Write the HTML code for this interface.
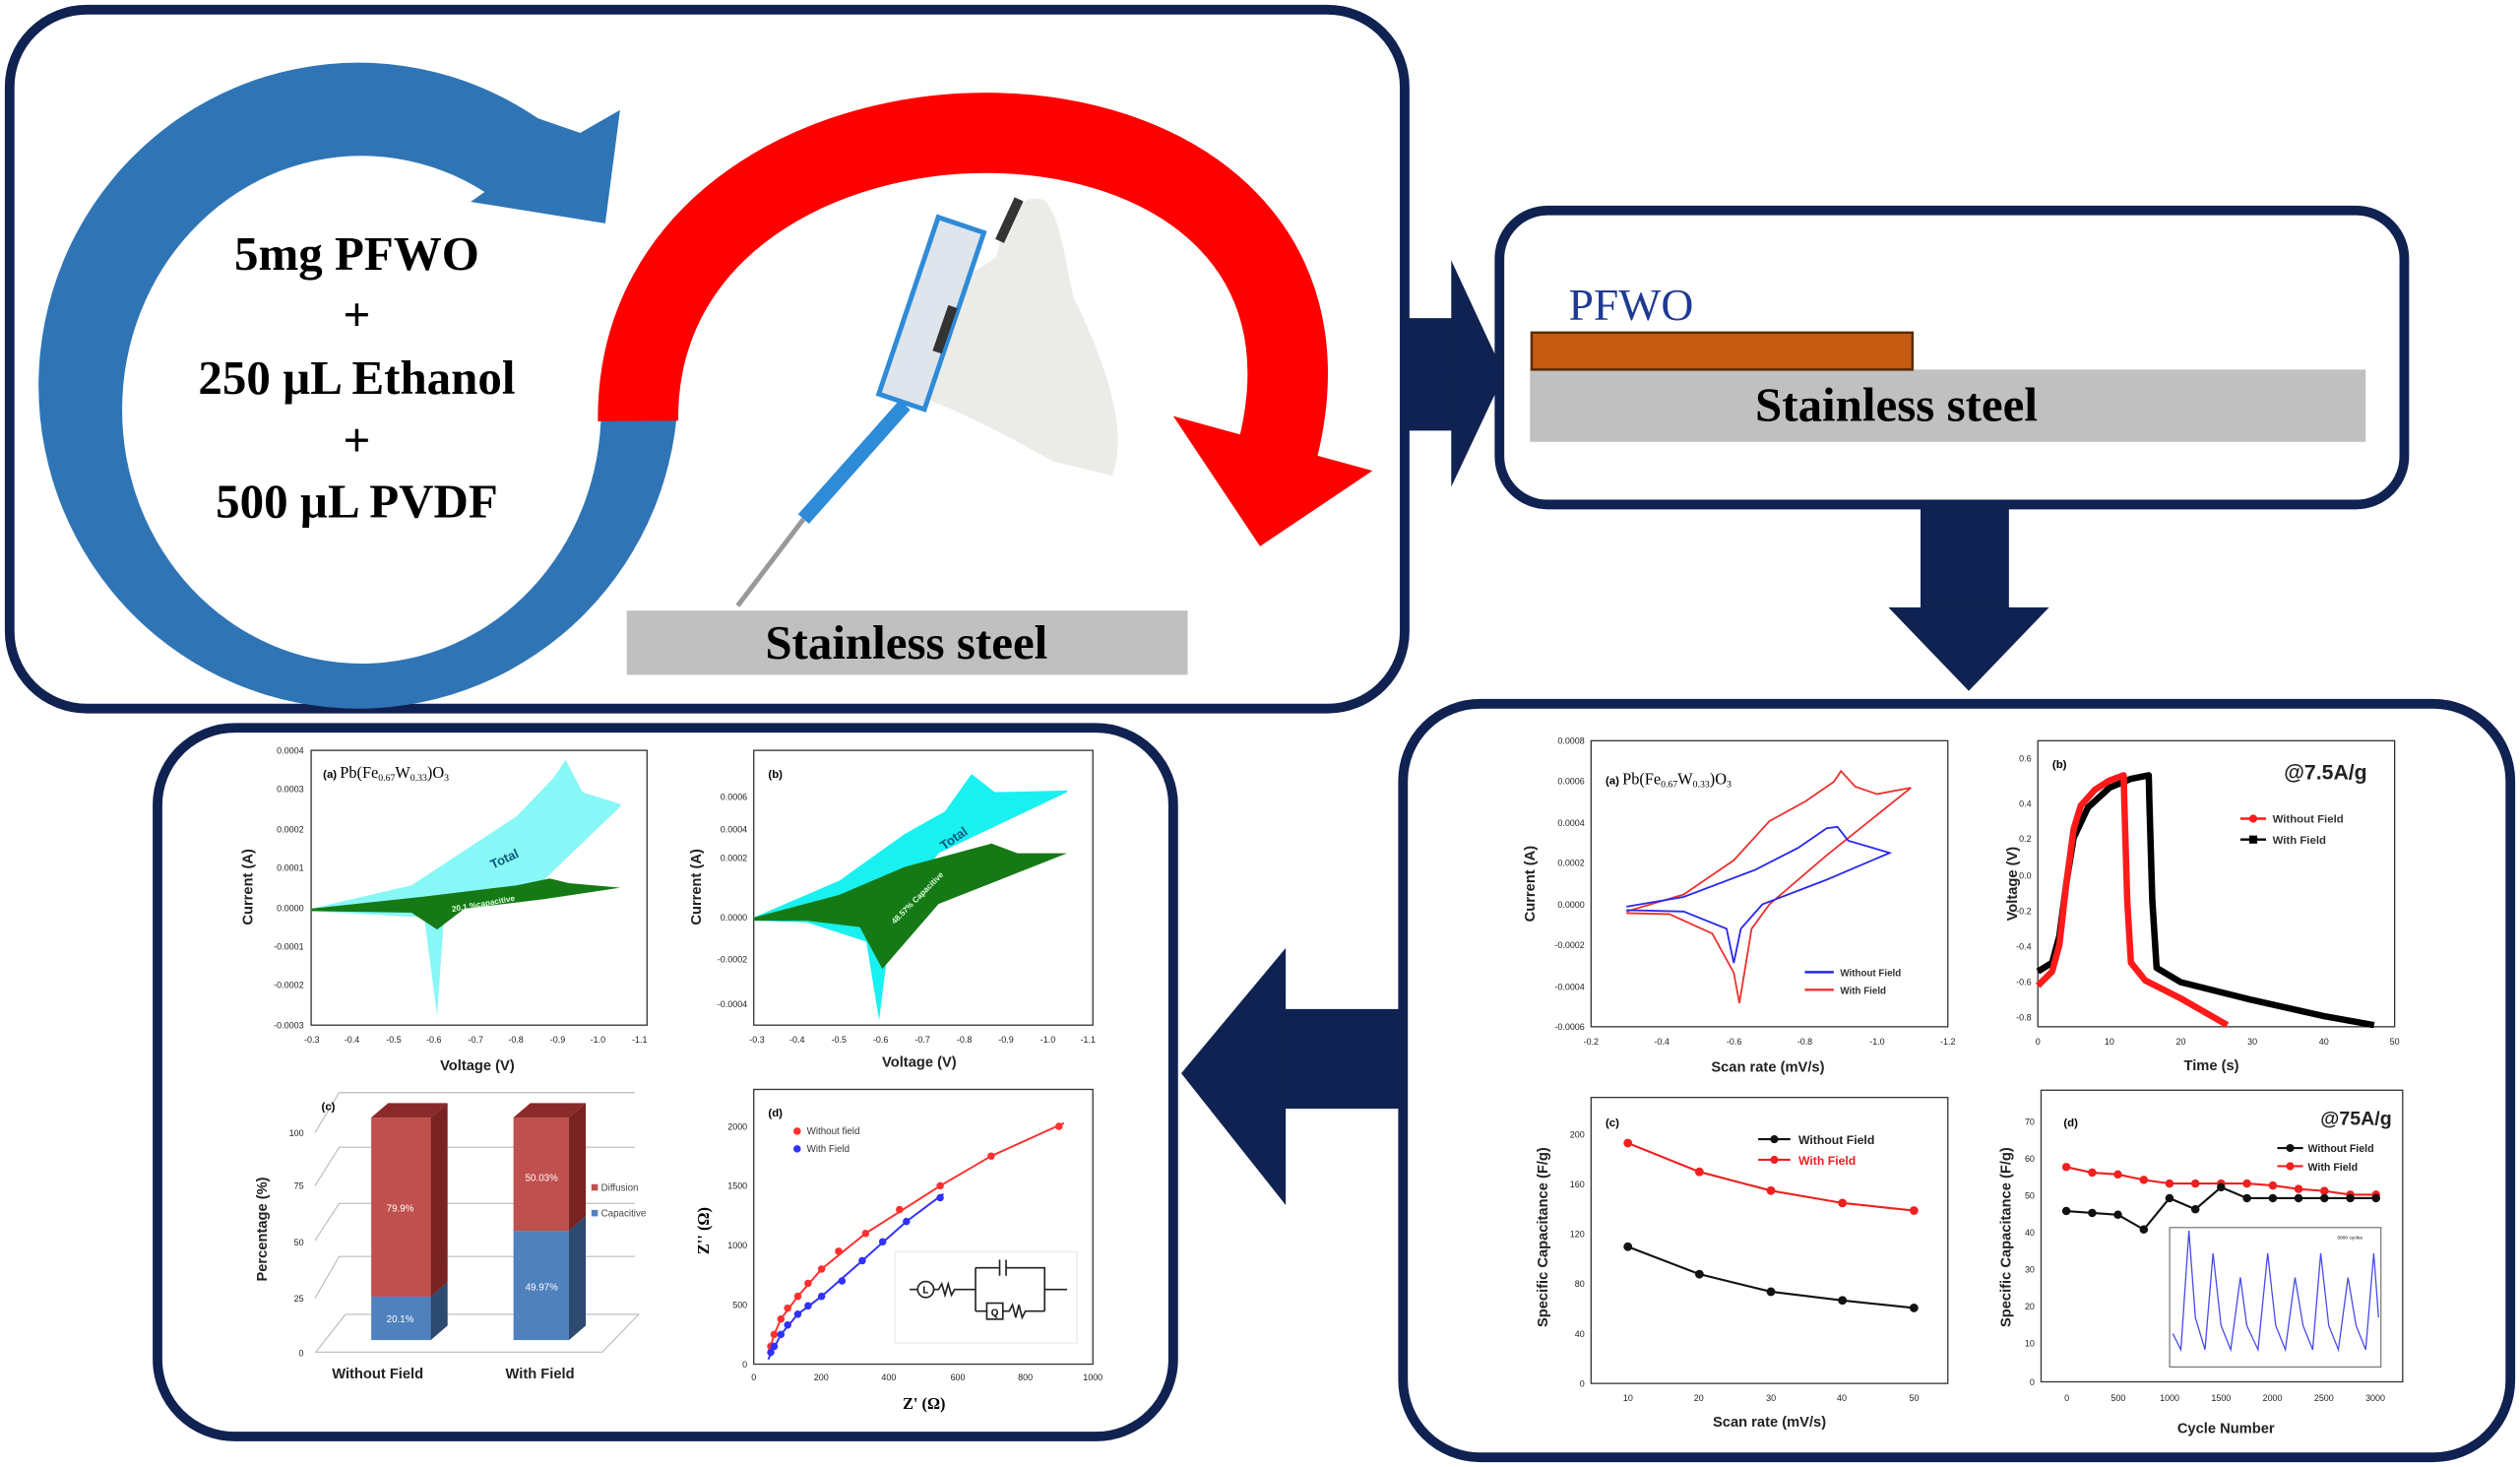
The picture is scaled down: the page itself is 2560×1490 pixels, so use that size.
<!DOCTYPE html>
<html><head><meta charset="utf-8"><style>
html,body{margin:0;padding:0;background:#fff;}
svg{display:block;}
text{font-family:"Liberation Sans",sans-serif;}
.sr{font-family:"Liberation Serif",serif;}
.t{font-size:5.5px;fill:#222;}
.lb{font-size:9px;font-weight:bold;fill:#222;}
</style></head><body>
<svg width="2560" height="1490" viewBox="0 0 1568 913" preserveAspectRatio="none" xmlns="http://www.w3.org/2000/svg">
<rect width="1568" height="913" fill="#fff"/>
<g fill="none" stroke="#102251" stroke-width="6">
<rect x="6" y="6" width="868" height="435" rx="48"/>
<rect x="933" y="131" width="563" height="183" rx="30"/>
<rect x="873" y="438" width="689" height="469" rx="48"/>
<rect x="98" y="453" width="632" height="441" rx="48"/>
</g>
<g fill="#102251">
<rect x="874" y="198" width="32" height="70"/><polygon points="903,162 936,233 903,303"/>
<rect x="1195" y="316" width="55" height="64"/><polygon points="1175,378 1275,378 1225,430"/>
<rect x="797" y="628" width="76" height="62"/><polygon points="735,668 800,590 800,750"/>
</g>
<ellipse cx="223" cy="240" rx="199" ry="201" fill="#2f75b5"/>
<ellipse cx="225" cy="255" rx="149" ry="158" fill="#fff"/>
<polygon points="225,258 315,110 361,82 470,20 470,258" fill="#fff"/>
<polygon points="330,72 361,82.7 385.8,68.5 376.6,139 292.8,125.6 315,110" fill="#2f75b5"/>
<path d="M397,262 C395,20 860,20 795,280" fill="none" stroke="#ff0000" stroke-width="50"/>
<polygon points="730,259 854,293 784,340" fill="#ff0000"/>
<text class="sr" x="222" y="168" font-size="30" font-weight="bold" text-anchor="middle">5mg PFWO</text>
<text class="sr" x="222" y="206" font-size="30" font-weight="bold" text-anchor="middle">+</text>
<text class="sr" x="222" y="245" font-size="30" font-weight="bold" text-anchor="middle">250 µL Ethanol</text>
<text class="sr" x="222" y="284" font-size="30" font-weight="bold" text-anchor="middle">+</text>
<text class="sr" x="222" y="322" font-size="30" font-weight="bold" text-anchor="middle">500 µL  PVDF</text>
<path d="M566,232 C560,205 575,185 590,180 L620,160 C625,135 638,118 650,125 C660,135 662,160 668,185 C690,230 702,270 692,296 L655,287 C628,272 600,257 580,250 Z" fill="#ebebe8"/>
<polygon points="546.8,245.2 575.2,254.8 612.2,144.8 583.8,135.2" fill="#dfe5ec" stroke="#2e8bd8" stroke-width="3"/>
<rect x="585" y="190" width="6" height="30" fill="#333" transform="rotate(19 588 205)"/>
<line x1="500" y1="323" x2="563" y2="252" stroke="#2e8bd8" stroke-width="9"/>
<line x1="459" y1="377" x2="500" y2="323" stroke="#999" stroke-width="3"/>
<line x1="622" y1="150" x2="634" y2="124" stroke="#333" stroke-width="6"/>
<rect x="390" y="380" width="349" height="40" fill="#c0c0c0"/>
<text class="sr" x="564" y="410" font-size="30" font-weight="bold" text-anchor="middle">Stainless steel</text>
<text class="sr" x="976" y="199" font-size="28" fill="#1f3a93">PFWO</text>
<rect x="952" y="230" width="520" height="45" fill="#c0c0c0"/>
<rect x="953" y="207" width="237" height="23" fill="#c55a11" stroke="#5a2a00" stroke-width="1.5"/>
<text class="sr" x="1180" y="262" font-size="30" font-weight="bold" text-anchor="middle">Stainless steel</text>

<rect x="193.6" y="467" width="209" height="171" fill="none" stroke="#333" stroke-width="0.8"/>
<path d="M193.6,565.5 L256,551 L321.5,508 L344,484.6 L352,473 L362.5,493 L386,500.5 L386,502 L338,548 L289,562.6 L276.4,568 L272,632 L264,571 L193.6,567 Z" fill="#88f7f7"/>
<path d="M193.6,565.5 L264,558 L321.5,551 L342,546.7 L354,549.6 L386,552.5 L338,559.7 L289,565.5 L272,578.5 L256,568 L193.6,567 Z" fill="#157a15"/>
<text x="315" y="537" font-size="8" font-weight="bold" fill="#0a5a7a" transform="rotate(-25 315 537)" text-anchor="middle">Total</text>
<text x="301" y="564" font-size="5" font-weight="bold" fill="#dfd" transform="rotate(-10 301 564)" text-anchor="middle">20.1 %capacitive</text>
<text x="201" y="484" font-size="7" font-weight="bold">(a) <tspan class="sr" font-size="10" font-weight="normal">Pb(Fe<tspan font-size="6" dy="2">0.67</tspan><tspan dy="-2">W</tspan><tspan font-size="6" dy="2">0.33</tspan><tspan dy="-2">)O</tspan><tspan font-size="6" dy="2">3</tspan></tspan></text>
<g class="t" text-anchor="end"><text x="189" y="469">0.0004</text><text x="189" y="493">0.0003</text><text x="189" y="518">0.0002</text><text x="189" y="542">0.0001</text><text x="189" y="567">0.0000</text><text x="189" y="591">-0.0001</text><text x="189" y="615">-0.0002</text><text x="189" y="640">-0.0003</text></g>
<g class="t" text-anchor="middle"><text x="194" y="649">-0.3</text><text x="219" y="649">-0.4</text><text x="245" y="649">-0.5</text><text x="270" y="649">-0.6</text><text x="296" y="649">-0.7</text><text x="321" y="649">-0.8</text><text x="347" y="649">-0.9</text><text x="372" y="649">-1.0</text><text x="398" y="649">-1.1</text></g>
<text class="lb" x="297" y="666" text-anchor="middle">Voltage (V)</text>
<text class="lb" x="157" y="552" transform="rotate(-90 157 552)" text-anchor="middle">Current (A)</text>
<rect x="469" y="467" width="211" height="171" fill="none" stroke="#333" stroke-width="0.8"/>
<path d="M469,571 L522.4,548 L563,519 L588,505 L604.5,481.7 L619,493 L664,492 L664,493 L584,531 L555,571 L547,635 L539,586 L502,574 L469,573 Z" fill="#19f0f0"/>
<path d="M469,571 L522,557 L563,539.5 L617,525 L633,531 L664,531 L584,562.6 L549,603 L535,577 L502,573 L469,573 Z" fill="#157a15"/>
<text x="595" y="524" font-size="8" font-weight="bold" fill="#0a5a7a" transform="rotate(-35 595 524)" text-anchor="middle">Total</text>
<text x="572" y="560" font-size="5" font-weight="bold" fill="#dfd" transform="rotate(-45 572 560)" text-anchor="middle">48.57% Capacitive</text>
<text x="478" y="484" font-size="7" font-weight="bold">(b)</text>
<g class="t" text-anchor="end"><text x="465" y="498">0.0006</text><text x="465" y="518">0.0004</text><text x="465" y="536">0.0002</text><text x="465" y="573">0.0000</text><text x="465" y="599">-0.0002</text><text x="465" y="627">-0.0004</text></g>
<g class="t" text-anchor="middle"><text x="471" y="649">-0.3</text><text x="496" y="649">-0.4</text><text x="522" y="649">-0.5</text><text x="548" y="649">-0.6</text><text x="574" y="649">-0.7</text><text x="600" y="649">-0.8</text><text x="626" y="649">-0.9</text><text x="652" y="649">-1.0</text><text x="677" y="649">-1.1</text></g>
<text class="lb" x="572" y="664" text-anchor="middle">Voltage (V)</text>
<text class="lb" x="436" y="552" transform="rotate(-90 436 552)" text-anchor="middle">Current (A)</text>
<g stroke="#bbb" stroke-width="0.7" fill="none">
<polyline points="196,705 211,680 395,680"/><polyline points="196,738 211,714 395,714"/><polyline points="196,772 211,749 395,749"/><polyline points="196,808 211,782 395,782"/>
<polygon points="196.5,841.5 374.8,841.5 397.4,818 215,818"/>
</g>
<polygon points="231,695.5 268,695.5 278.5,686.5 241.5,686.5" fill="#8b2a2a"/>
<rect x="231" y="695.5" width="37" height="111.5" fill="#c0504d"/>
<rect x="231" y="807" width="37" height="27" fill="#4f81bd"/>
<polygon points="268,695.5 278.5,686.5 278.5,798 268,807" fill="#7a2323"/>
<polygon points="268,807 278.5,798 278.5,825 268,834" fill="#2d4a70"/>
<polygon points="319.5,695.5 354,695.5 364.5,686.5 330,686.5" fill="#8b2a2a"/>
<rect x="319.5" y="695.5" width="34.5" height="70.5" fill="#c0504d"/>
<rect x="319.5" y="766" width="34.5" height="68" fill="#4f81bd"/>
<polygon points="354,695.5 364.5,686.5 364.5,757 354,766" fill="#7a2323"/>
<polygon points="354,766 364.5,757 364.5,825 354,834" fill="#2d4a70"/>
<g font-size="6" fill="#fff" text-anchor="middle"><text x="249" y="754">79.9%</text><text x="249" y="823">20.1%</text><text x="337" y="735">50.03%</text><text x="337" y="803">49.97%</text></g>
<rect x="368" y="737" width="4" height="4" fill="#c0504d"/><text x="374" y="741" font-size="6" fill="#444">Diffusion</text>
<rect x="368" y="753" width="4" height="4" fill="#4f81bd"/><text x="374" y="757" font-size="6" fill="#444">Capacitive</text>
<g class="t" text-anchor="end" font-size="6"><text x="189" y="707">100</text><text x="189" y="740">75</text><text x="189" y="775">50</text><text x="189" y="810">25</text><text x="189" y="844">0</text></g>
<text x="200" y="691" font-size="7" font-weight="bold">(c)</text>
<text class="lb" x="166" y="765" transform="rotate(-90 166 765)" text-anchor="middle" font-size="10">Percentage (%)</text>
<text class="lb" x="235" y="858" text-anchor="middle" font-size="10">Without Field</text>
<text class="lb" x="336" y="858" text-anchor="middle" font-size="10">With Field</text>
<rect x="469" y="678" width="211" height="171" fill="none" stroke="#333" stroke-width="0.8"/>
<polyline points="478,843 481.7,830.5 485.9,820.9 496.4,806.8 511.2,789.8 538.6,767.6 585,738 616.7,719.5 662,699" fill="none" stroke="#ff3030" stroke-width="1.2"/>
<polyline points="478,846 485.9,830.5 496.4,817.9 511.2,806.8 536.5,784.6 564,760.2 587,743" fill="none" stroke="#3030ff" stroke-width="1.2"/>
<g fill="#ff3030"><circle cx="479.6" cy="837.9" r="2.3"/><circle cx="481.7" cy="830.5" r="2.3"/><circle cx="485.9" cy="820.9" r="2.3"/><circle cx="490.1" cy="814.2" r="2.3"/><circle cx="496.4" cy="806.8" r="2.3"/><circle cx="502.8" cy="798.7" r="2.3"/><circle cx="511.2" cy="789.8" r="2.3"/><circle cx="521.8" cy="778.7" r="2.3"/><circle cx="538.6" cy="767.6" r="2.3"/><circle cx="559.7" cy="752.8" r="2.3"/><circle cx="585" cy="738" r="2.3"/><circle cx="616.7" cy="719.5" r="2.3"/><circle cx="658.9" cy="701" r="2.3"/><circle cx="496" cy="704" r="2.3"/></g>
<g fill="#3030ff"><circle cx="479.6" cy="841.6" r="2.3"/><circle cx="481.7" cy="837.9" r="2.3"/><circle cx="485.9" cy="830.5" r="2.3"/><circle cx="490.1" cy="824.6" r="2.3"/><circle cx="496.4" cy="817.9" r="2.3"/><circle cx="502.8" cy="812.7" r="2.3"/><circle cx="511.2" cy="806.8" r="2.3"/><circle cx="523.9" cy="797.2" r="2.3"/><circle cx="536.5" cy="784.6" r="2.3"/><circle cx="549.2" cy="772.8" r="2.3"/><circle cx="564" cy="760.2" r="2.3"/><circle cx="585" cy="745.4" r="2.3"/><circle cx="496" cy="715" r="2.3"/></g>
<text x="502" y="706" font-size="6" fill="#333">Without field</text><text x="502" y="717" font-size="6" fill="#333">With Field</text>
<text x="478" y="695" font-size="7" font-weight="bold">(d)</text>
<g fill="none" stroke="#222" stroke-width="1"><rect x="557" y="779" width="113" height="57" stroke="#eee"/>
<circle cx="576" cy="802.5" r="5"/><polyline points="566,802.5 571,802.5"/><polyline points="581,802.5 584,802.5 586,799 588,806 590,799 592,806 594,802.5 607,802.5"/>
<polyline points="607,789 607,816"/><polyline points="607,789 622,789"/><polyline points="622,784 622,794"/><polyline points="626,784 626,794"/><polyline points="626,789 650,789 650,816"/>
<polyline points="607,816 614,816"/><rect x="614" y="811" width="10" height="10"/><polyline points="624,816 628,816 630,812 632,820 634,812 636,820 638,816 650,816"/><polyline points="650,802.5 664,802.5"/></g>
<text x="576" y="805" font-size="6" text-anchor="middle" font-weight="bold">L</text><text x="619" y="819" font-size="6" text-anchor="middle" font-weight="bold">Q</text>
<g class="t" text-anchor="end"><text x="465" y="703">2000</text><text x="465" y="740">1500</text><text x="465" y="777">1000</text><text x="465" y="814">500</text><text x="465" y="851">0</text></g>
<g class="t" text-anchor="middle"><text x="469" y="859">0</text><text x="511" y="859">200</text><text x="553" y="859">400</text><text x="596" y="859">600</text><text x="638" y="859">800</text><text x="680" y="859">1000</text></g>
<text class="sr" x="575" y="877" text-anchor="middle" font-size="10" font-weight="bold">Z' (Ω)</text>
<text class="sr" x="441" y="766" transform="rotate(-90 441 766)" text-anchor="middle" font-size="10" font-weight="bold">Z'' (Ω)</text>

<rect x="990" y="461" width="222" height="178" fill="none" stroke="#333" stroke-width="0.8"/>
<path d="M1012,567.3 L1047.6,556.7 L1078.8,535.4 L1101,511 L1123.3,498.8 L1141,486.6 L1145.5,479.9 L1154.4,489.6 L1167.8,494.2 L1189,490.3 L1136.6,532.3 L1101,562.8 L1089.9,578 L1085.4,605.4 L1082.3,624.3 L1078.8,605.4 L1065.4,581 L1038.7,568.9 L1012,568.3" fill="none" stroke="#ee3030" stroke-width="1.1"/>
<path d="M1012,564.3 L1047.6,558.2 L1092,541.4 L1118.8,527.7 L1136.6,515.5 L1143.3,514.6 L1150,523.2 L1175.8,530.8 L1136.6,547.5 L1096.6,562.8 L1083.2,578 L1078.8,599.3 L1074.3,578 L1047.6,567.3 L1012,566.4" fill="none" stroke="#2828ee" stroke-width="1.1"/>
<text x="999" y="488" font-size="7" font-weight="bold">(a) <tspan class="sr" font-size="10" font-weight="normal">Pb(Fe<tspan font-size="6" dy="2">0.67</tspan><tspan dy="-2">W</tspan><tspan font-size="6" dy="2">0.33</tspan><tspan dy="-2">)O</tspan><tspan font-size="6" dy="2">3</tspan></tspan></text>
<line x1="1123" y1="605" x2="1141" y2="605" stroke="#2828ee" stroke-width="1.5"/><text x="1145" y="607.5" font-size="6" font-weight="bold" fill="#333">Without Field</text>
<line x1="1123" y1="616" x2="1141" y2="616" stroke="#ee3030" stroke-width="1.5"/><text x="1145" y="618.5" font-size="6" font-weight="bold" fill="#333">With Field</text>
<g class="t" text-anchor="end"><text x="986" y="463">0.0008</text><text x="986" y="488">0.0006</text><text x="986" y="514">0.0004</text><text x="986" y="539">0.0002</text><text x="986" y="565">0.0000</text><text x="986" y="590">-0.0002</text><text x="986" y="616">-0.0004</text><text x="986" y="641">-0.0006</text></g>
<g class="t" text-anchor="middle"><text x="990" y="650">-0.2</text><text x="1034" y="650">-0.4</text><text x="1079" y="650">-0.6</text><text x="1123" y="650">-0.8</text><text x="1168" y="650">-1.0</text><text x="1212" y="650">-1.2</text></g>
<text class="lb" x="1100" y="667" text-anchor="middle">Scan rate (mV/s)</text>
<text class="lb" x="955" y="550" transform="rotate(-90 955 550)" text-anchor="middle">Current (A)</text>
<rect x="1268" y="461" width="222" height="178" fill="none" stroke="#333" stroke-width="0.8"/>
<polyline points="1268,604.6 1276.9,599.1 1281.4,582.4 1285.8,549.1 1290.3,521.4 1299.2,502.5 1312.5,490.3 1325.9,484.7 1337,482.5 1337.4,499.2 1339.2,560.2 1341.9,602.4 1357,611.3 1401.5,622.4 1446,632.4 1477.2,638" fill="none" stroke="#000" stroke-width="4" stroke-linejoin="round"/>
<polyline points="1268,613.5 1276.9,604.6 1281.4,588 1285.8,549.1 1290.3,515.8 1294.7,501.4 1303.6,491.4 1312.5,485.8 1321.4,482.5 1321.8,499.2 1323.6,560.2 1325.9,599.1 1334.8,610.2 1357,621.4 1385.9,638" fill="none" stroke="#ff1a1a" stroke-width="4" stroke-linejoin="round"/>
<text x="1277" y="478" font-size="7" font-weight="bold">(b)</text>
<text x="1447" y="485" font-size="13" font-weight="bold" fill="#222" text-anchor="middle">@7.5A/g</text>
<line x1="1394" y1="509.5" x2="1410" y2="509.5" stroke="#ff1a1a" stroke-width="1.5"/><circle cx="1402" cy="509.5" r="2.5" fill="#ff1a1a"/><text x="1414" y="512" font-size="7" font-weight="bold" fill="#333">Without Field</text>
<line x1="1394" y1="522.5" x2="1410" y2="522.5" stroke="#000" stroke-width="1.5"/><rect x="1399.5" y="520" width="5" height="5" fill="#000"/><text x="1414" y="525" font-size="7" font-weight="bold" fill="#333">With Field</text>
<g class="t" text-anchor="end"><text x="1264" y="474">0.6</text><text x="1264" y="502">0.4</text><text x="1264" y="524">0.2</text><text x="1264" y="547">0.0</text><text x="1264" y="569">-0.2</text><text x="1264" y="591">-0.4</text><text x="1264" y="613">-0.6</text><text x="1264" y="635">-0.8</text></g>
<g class="t" text-anchor="middle"><text x="1268" y="650">0</text><text x="1312.5" y="650">10</text><text x="1357" y="650">20</text><text x="1401.5" y="650">30</text><text x="1446" y="650">40</text><text x="1490" y="650">50</text></g>
<text class="lb" x="1376" y="666" text-anchor="middle">Time (s)</text>
<text class="lb" x="1255" y="550" transform="rotate(-90 1255 550)" text-anchor="middle">Voltage (V)</text>
<rect x="990" y="683" width="222" height="178" fill="none" stroke="#333" stroke-width="0.8"/>
<polyline points="1012.9,711.4 1057.4,729.3 1101.9,741 1146.4,748.7 1190.9,753.4" fill="none" stroke="#ee2020" stroke-width="1.3"/>
<polyline points="1012.9,775.9 1057.4,793 1101.9,803.9 1146.4,809.3 1190.9,814" fill="none" stroke="#111" stroke-width="1.3"/>
<g fill="#ee2020"><circle cx="1012.9" cy="711.4" r="2.7"/><circle cx="1057.4" cy="729.3" r="2.7"/><circle cx="1101.9" cy="741" r="2.7"/><circle cx="1146.4" cy="748.7" r="2.7"/><circle cx="1190.9" cy="753.4" r="2.7"/><circle cx="1104" cy="721.8" r="2.5"/></g>
<g fill="#111"><circle cx="1012.9" cy="775.9" r="2.7"/><circle cx="1057.4" cy="793" r="2.7"/><circle cx="1101.9" cy="803.9" r="2.7"/><circle cx="1146.4" cy="809.3" r="2.7"/><circle cx="1190.9" cy="814" r="2.7"/><circle cx="1104" cy="709" r="2.5"/></g>
<line x1="1094" y1="709" x2="1114" y2="709" stroke="#111" stroke-width="1.3"/><line x1="1094" y1="721.8" x2="1114" y2="721.8" stroke="#ee2020" stroke-width="1.3"/>
<text x="1119" y="712" font-size="7.5" font-weight="bold" fill="#222">Without Field</text><text x="1119" y="725" font-size="7.5" font-weight="bold" fill="#ee2020">With Field</text>
<text x="999" y="701" font-size="7" font-weight="bold">(c)</text>
<g class="t" text-anchor="end"><text x="986" y="708">200</text><text x="986" y="739">160</text><text x="986" y="770">120</text><text x="986" y="801">80</text><text x="986" y="832">40</text><text x="986" y="863">0</text></g>
<g class="t" text-anchor="middle"><text x="1013" y="872">10</text><text x="1057" y="872">20</text><text x="1102" y="872">30</text><text x="1146" y="872">40</text><text x="1191" y="872">50</text></g>
<text class="lb" x="1101" y="888" text-anchor="middle">Scan rate (mV/s)</text>
<text class="lb" x="963" y="770" transform="rotate(-90 963 770)" text-anchor="middle">Specific Capacitance (F/g)</text>
<rect x="1270" y="678.5" width="225" height="181.5" fill="none" stroke="#333" stroke-width="0.8"/>
<polyline points="1285.7,726.3 1301.8,729.8 1317.8,730.9 1333.9,734.3 1349.9,736.6 1366,736.6 1382,736.6 1398.1,736.6 1414.2,737.8 1430.2,740 1446.3,741.2 1462.4,743.5 1478.4,743.5" fill="none" stroke="#ee2020" stroke-width="1.3"/>
<polyline points="1285.7,753.7 1301.8,754.9 1317.8,756 1333.9,765.2 1349.9,745.7 1366,752.6 1382,738.9 1398.1,745.7 1414.2,745.7 1430.2,745.7 1446.3,745.7 1462.4,745.7 1478.4,745.7" fill="none" stroke="#111" stroke-width="1.3"/>
<g fill="#ee2020"><circle cx="1285.7" cy="726.3" r="2.6"/><circle cx="1301.8" cy="729.8" r="2.6"/><circle cx="1317.8" cy="730.9" r="2.6"/><circle cx="1333.9" cy="734.3" r="2.6"/><circle cx="1349.9" cy="736.6" r="2.6"/><circle cx="1366" cy="736.6" r="2.6"/><circle cx="1382" cy="736.6" r="2.6"/><circle cx="1398.1" cy="736.6" r="2.6"/><circle cx="1414.2" cy="737.8" r="2.6"/><circle cx="1430.2" cy="740" r="2.6"/><circle cx="1446.3" cy="741.2" r="2.6"/><circle cx="1462.4" cy="743.5" r="2.6"/><circle cx="1478.4" cy="743.5" r="2.6"/><circle cx="1425" cy="725.8" r="2.5"/></g>
<g fill="#111"><circle cx="1285.7" cy="753.7" r="2.6"/><circle cx="1301.8" cy="754.9" r="2.6"/><circle cx="1317.8" cy="756" r="2.6"/><circle cx="1333.9" cy="765.2" r="2.6"/><circle cx="1349.9" cy="745.7" r="2.6"/><circle cx="1366" cy="752.6" r="2.6"/><circle cx="1382" cy="738.9" r="2.6"/><circle cx="1398.1" cy="745.7" r="2.6"/><circle cx="1414.2" cy="745.7" r="2.6"/><circle cx="1430.2" cy="745.7" r="2.6"/><circle cx="1446.3" cy="745.7" r="2.6"/><circle cx="1462.4" cy="745.7" r="2.6"/><circle cx="1478.4" cy="745.7" r="2.6"/><circle cx="1425" cy="714.5" r="2.5"/></g>
<line x1="1417" y1="714.5" x2="1433" y2="714.5" stroke="#111" stroke-width="1.3"/><line x1="1417" y1="725.8" x2="1433" y2="725.8" stroke="#ee2020" stroke-width="1.3"/>
<text x="1436" y="717" font-size="6.5" font-weight="bold" fill="#222">Without Field</text><text x="1436" y="728.5" font-size="6.5" font-weight="bold" fill="#222">With Field</text>
<text x="1466" y="700" font-size="12" font-weight="bold" fill="#222" text-anchor="middle">@75A/g</text>
<text x="1284" y="701" font-size="7" font-weight="bold">(d)</text>
<rect x="1350" y="764" width="131.5" height="86.7" fill="#fff" stroke="#555" stroke-width="0.6"/>
<polyline points="1352,830 1357,840 1362,766 1366,820 1372,840 1377,780 1382,825 1388,840 1394,795 1398,825 1405,840 1411,780 1416,825 1422,840 1428,795 1433,825 1439,840 1444,780 1449,825 1455,840 1461,795 1466,825 1472,840 1477,780 1480,820" fill="none" stroke="#4a4aee" stroke-width="0.8"/>
<text x="1470" y="771" font-size="3" text-anchor="end">3000 cycles</text>
<g class="t" text-anchor="end"><text x="1266" y="700">70</text><text x="1266" y="723">60</text><text x="1266" y="746">50</text><text x="1266" y="769">40</text><text x="1266" y="792">30</text><text x="1266" y="815">20</text><text x="1266" y="838">10</text><text x="1266" y="862">0</text></g>
<g class="t" text-anchor="middle"><text x="1286" y="872">0</text><text x="1318" y="872">500</text><text x="1350" y="872">1000</text><text x="1382" y="872">1500</text><text x="1414" y="872">2000</text><text x="1446" y="872">2500</text><text x="1478" y="872">3000</text></g>
<text class="lb" x="1385" y="892" text-anchor="middle">Cycle Number</text>
<text class="lb" x="1251" y="770" transform="rotate(-90 1251 770)" text-anchor="middle">Specific Capacitance (F/g)</text>
</svg>
</body></html>
